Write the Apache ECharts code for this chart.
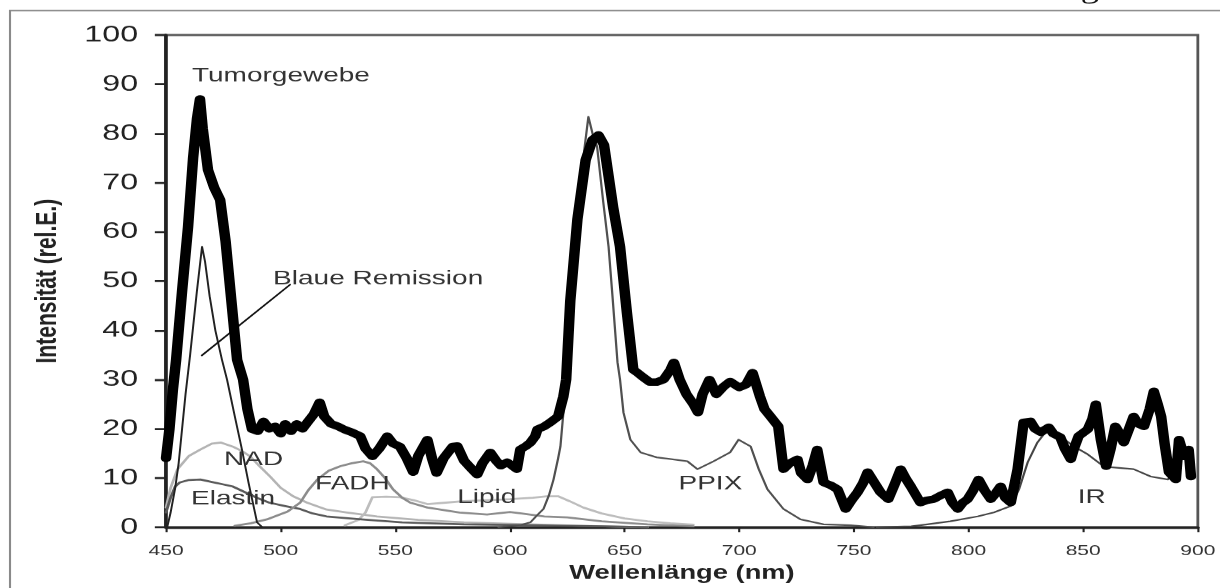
<!DOCTYPE html>
<html><head><meta charset="utf-8">
<script src="https://cdn.jsdelivr.net/npm/echarts@6/dist/echarts.min.js"></script>
<style>
html,body{margin:0;padding:0;background:#fff;overflow:hidden;width:1220px;height:588px}
#c{width:872px;height:588px;transform:scaleX(1.39908);transform-origin:0 0;}
</style></head><body><div id="c"></div>
<script>
// ---------- DATA (wavelength nm, intensity rel.E.) ----------
const xTickValues = [450,500,550,600,650,700,750,800,850,900];
const yTickValues = [0,10,20,30,40,50,60,70,80,90,100];

const tumorgewebe = [[450,14],[451.5,20],[453,28],[454.4,34],[457,48],[459.6,61],[461.8,75],[463.5,83],[464.8,87],[466,81],[468.3,72.6],[471,69],[473.6,66.5],[476,58],[478.5,46],[481,34],[483.6,30],[485.5,24],[487.5,19.9],[490,19.5],[492.5,21.5],[495,20],[497.5,20.5],[500,19],[502,21],[504.5,19.5],[507,21],[509.5,20],[512,21.5],[514.5,23],[517,25.4],[519,22.5],[522,21],[525,20.5],[528,19.8],[531,19.3],[534.7,18.5],[537,16],[540,14.4],[543,16],[546.5,18.5],[549,17],[552,16.4],[555,14],[557.8,11.2],[560,14.5],[564,17.8],[566,14],[568,11],[571,14],[575,16.4],[577,16.5],[580,13.5],[583,12],[585.7,10.7],[588,13],[591.4,15.2],[594,13.5],[596,12.5],[598.8,13.2],[601,12.5],[603,11.8],[604.5,15.8],[607,16.5],[608.9,17.2],[611,18.5],[612,19.9],[615,20.5],[617.6,21.3],[621,22.5],[623.3,26.6],[624.5,30],[626.3,46],[629.4,62.5],[633,74.6],[636,78.7],[638.6,79.7],[641,77.7],[645,65],[648,57],[651,43.6],[653.8,32],[655.6,31.4],[658,30.5],[661,29.5],[664,29.5],[667,30],[670,32],[671.5,33.5],[674,30],[677,27],[680,25],[682,23.3],[684,27],[687,30],[690,27],[693,28.5],[696,29.6],[700,28.4],[703,29],[705.8,31.4],[709,26.6],[711,24],[713.6,22.5],[717,20.5],[719.3,11.8],[722,13],[725.4,13.8],[727,11],[729.8,9.7],[732,12.5],[734,15.8],[736.8,9.1],[740,8.5],[742.9,7.7],[746.4,3.7],[749,5.5],[751.6,7.1],[754,9],[756,11.2],[759,9],[761.6,7.1],[765,5.7],[768,9],[770.4,11.8],[772.5,10],[774.8,8.3],[779,5],[782,5.5],[784.8,5.7],[788,6.5],[790.9,7.1],[793,5],[795.3,3.7],[797.5,5],[799.6,5.7],[802,7.5],[804.4,9.7],[807,7.5],[809.7,5.7],[812,7],[814,8.3],[816,6],[818.4,5],[821.4,11.8],[824,21.3],[827,21.5],[829,20],[831.5,19.3],[835,20.3],[837,19],[840,18.3],[842,16],[844.6,13.8],[846,16],[848,18.5],[852,19.9],[854,22],[855.5,25],[857.7,17.8],[860,12.4],[862,16],[864,20.5],[866,19],[867.7,17.2],[870,20],[872,22.5],[874,21],[876.5,20.5],[879,24],[880.8,27.6],[882.5,25],[884,22.5],[885.5,17],[887.4,11.2],[890.4,9.7],[891.8,17.8],[894,14.4],[896,15.8],[897,10.3]];

const blaueRemission = [[450.5,0],[452,3],[454,8],[455.5,13],[457,20],[458.5,27],[460.5,35],[463.4,47.7],[465.7,57],[467,54],[469,47],[471.5,40],[474.4,34],[476.6,30],[480,22.5],[483,16],[486,9],[489.7,1],[492,0],[520,0]];

const nad = [[450,4],[452,8],[455,11.8],[460,14.5],[465,15.8],[470,17],[474,17.2],[479,16.4],[483,15.5],[486.7,14.4],[491,12.3],[495.4,10.3],[500,8],[505.4,6.3],[511.5,5],[520,3.6],[529,3],[542,2.2],[560,1.5],[580,1.0],[600,0.7],[630,0.3],[660,0]];

const elastin = [[450,3],[452,6],[454,8.3],[456,9.1],[460,9.6],[465,9.7],[470,9.2],[475,8.7],[479,8.3],[485,7],[490,5.9],[495,5],[502,4.3],[508.5,3.7],[514,2.8],[520,2.2],[535,1.6],[553,1],[580,0.6],[610,0.4],[640,0.2],[660,0]];

const fadh = [[480,0.3],[487,0.8],[494,1.6],[503,3.2],[508.5,5],[512,7.5],[516,9.7],[521,11.5],[526,12.4],[531,13],[536,13.4],[539,13],[542,11.8],[545.5,10],[549,7.7],[553,6],[556.5,5],[564,4],[578,3],[590,2.6],[600,3.1],[605,2.8],[615,2.2],[625,2],[640,1.2],[660,0.6],[680,0.2]];

const lipid = [[528,0.4],[534,1.5],[537,3],[540,6.1],[546,6.2],[552,6.1],[558,5.5],[564,4.7],[572,5],[580,5.3],[590,5.5],[600,5.7],[610,6],[616,6.3],[621,6.3],[626,5.3],[632,4],[640,2.8],[650,1.8],[660,1.2],[670,0.8],[680,0.5]];

const ppix = [[595,0],[605,0.5],[608.9,1],[612,2.5],[614.6,3.7],[617,6.5],[619,9.7],[621,14],[622,16.4],[623.3,23.3],[624.6,30],[626.5,42],[628.5,55],[630.5,67],[632.5,77],[634.2,83.4],[636,80],[638,77.3],[640.7,66],[643,57],[644.7,47],[646.9,33.5],[648,30],[649.5,23.3],[652.5,17.8],[657,15.2],[664,14.2],[671,13.8],[677.4,13.4],[681.8,11.8],[688.8,13.4],[696,15.2],[699.7,17.8],[705,16.4],[708.5,11.8],[712.3,7.7],[719.3,3.7],[726.7,1.6],[736.8,0.6],[748.6,0.4],[758.6,0]];

const ir = [[760,0],[775,0.2],[782,0.6],[792,1.2],[804,2.2],[811,3],[818.4,4.3],[822,7.7],[825.8,13.2],[830,17.2],[834.5,19.9],[840,18.5],[846,16.4],[852,14.8],[857.7,12.8],[862,12.2],[872,11.8],[879.5,10.3],[887,9.7],[891,12.4],[895.6,15.8]];

const blaueRemissionPointer = [[465.6,34.9],[504.1,49.3]];

// text label anchors (data coords, left-middle of text)
const labelTexts = ['Tumorgewebe','Blaue Remission','NAD','Elastin','FADH','Lipid','PPIX','IR'];
const labelX = [461.3,496.7,475.3,460.9,515,577,673.5,847.6];
const labelY = [91.7,50.5,13.8,5.8,8.8,6.0,8.8,6.0];

// ---------- CHART ----------
const FONT = '"Liberation Sans", Arial, sans-serif';
const chart = echarts.init(document.getElementById('c'), null, {renderer:'canvas', devicePixelRatio:1.4});

function line(name, data, color, width, z){
  return {name, type:'line', data, symbol:'none', smooth:false, z:z||2,
    lineStyle:{color, width, join:'round', cap:'round'}, emphasis:{disabled:true}, silent:true};
}

const option = {
  animation:false,
  backgroundColor:'#fff',
  grid:{left:118.6, right:16.4, top:35, bottom:60, show:true, borderColor:'#555', borderWidth:2, backgroundColor:'transparent'},
  xAxis:{type:'value', min:xTickValues[0], max:xTickValues[xTickValues.length-1], interval:50,
    name:'Wellenlänge (nm)', nameLocation:'middle', nameGap:33,
    nameTextStyle:{fontFamily:FONT, fontSize:19.5, fontWeight:'bold', color:'#222'},
    axisLine:{lineStyle:{color:'#222', width:2.6}},
    axisTick:{show:true, length:5, lineStyle:{color:'#222', width:1.5}},
    axisLabel:{fontFamily:FONT, fontSize:15, color:'#333', margin:16},
    splitLine:{show:false}},
  yAxis:{type:'value', min:yTickValues[0], max:yTickValues[yTickValues.length-1], interval:10,
    name:'Intensität (rel.E.)', nameLocation:'middle', nameRotate:90, nameGap:74,
    nameTextStyle:{fontFamily:FONT, fontSize:21, fontWeight:'bold', color:'#222'},
    axisLine:{lineStyle:{color:'#222', width:2.6}},
    axisTick:{show:true, length:8, lineStyle:{color:'#222', width:2}},
    axisLabel:{fontFamily:FONT, fontSize:23, color:'#222', margin:20},
    splitLine:{show:false}},
  series:[
    line('NAD', nad, '#b4b4b4', 2, 2),
    line('Lipid', lipid, '#bdbdbd', 2, 2),
    line('Elastin', elastin, '#5a5a5a', 2, 3),
    line('FADH', fadh, '#8c8c8c', 2, 3),
    line('IR', ir, '#454545', 1.6, 4),
    line('PPIX', ppix, '#505050', 1.6, 4),
    line('Blaue Remission', blaueRemission, '#222', 1.4, 5),
    line('pointer', blaueRemissionPointer, '#111', 1.4, 5),
    line('Tumorgewebe', tumorgewebe, '#000', 7.5, 6)
  ]
};
chart.setOption(option);

const graphics = [
  {type:'rect', silent:true, z:-1, shape:{x:7.15, y:10.5, width:1000, height:700},
   style:{fill:'none', stroke:'#8a8a8a', lineWidth:1.5}},
  {type:'text', silent:true, x:778.4, y:-9, style:{text:'g', font:'26px "Liberation Serif", serif', fill:'#111', align:'center', verticalAlign:'middle'}}
];
labelTexts.forEach((t,i)=>{
  const p = chart.convertToPixel({gridIndex:0}, [labelX[i], labelY[i]]);
  graphics.push({type:'text', silent:true, z:10, x:p[0], y:p[1],
    style:{text:t, fontFamily:FONT, fontSize:20, fill:'#333', align:'left', verticalAlign:'middle'}});
});
chart.setOption({graphic:graphics});
</script></body></html>
